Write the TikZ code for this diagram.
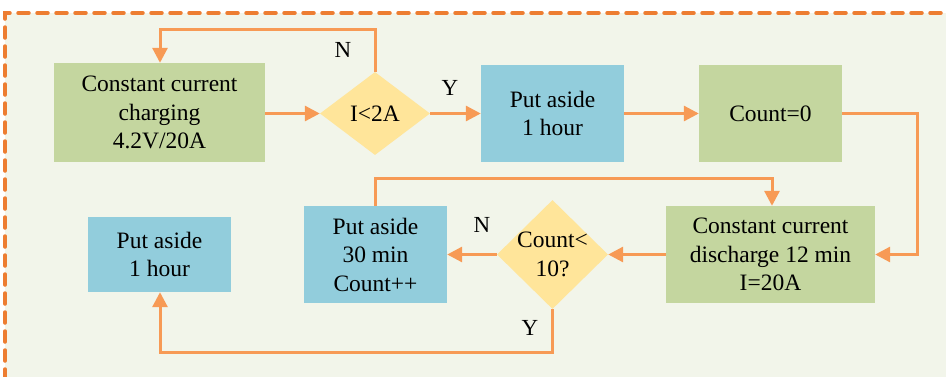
\documentclass[tikz,border=0pt]{standalone}
\usepackage{fontspec}
\setmainfont{Liberation Serif}
\usetikzlibrary{arrows.meta,shapes.geometric}
\definecolor{bgc}{HTML}{F2F5EA}
\definecolor{frame}{HTML}{ED7D31}
\definecolor{arr}{HTML}{F79A55}
\definecolor{gbox}{HTML}{C4D69F}
\definecolor{bbox}{HTML}{92CDDC}
\definecolor{dia}{HTML}{FFE59A}
\tikzset{
  every node/.style={font=\fontsize{23.5}{28.5}\selectfont, align=center, inner sep=0pt},
  greenbox/.style={fill=gbox},
  bluebox/.style={fill=bbox},
  decision/.style={diamond, fill=dia},
  flow/.style={draw=arr, line width=3pt, -{Triangle[length=15pt,width=15pt]}},
  lbl/.style={font=\fontsize{23}{26}\selectfont}
}
\begin{document}
\begin{tikzpicture}[x=1pt,y=-1pt]
\useasboundingbox (0,0) rectangle (946,376);
\fill[bgc] (5,13) rectangle (950,380);
\draw[frame, line width=3.5pt, line cap=round, dash pattern=on 11pt off 8pt] (5,380) -- (5,13) -- (950,13);

% nodes
\node[greenbox, minimum width=211pt, minimum height=99pt] (charge) at (159.5,112.5) {Constant current\\charging\\4.2V/20A};
\node[decision, minimum width=110pt, minimum height=83pt] (d1) at (375,113.5) {};
\node (t1) at (375,113.5) {I<2A};
\node[bluebox, minimum width=143pt, minimum height=97pt] (rest1) at (552.5,113.5) {Put aside\\1 hour};
\node[greenbox, minimum width=143pt, minimum height=97pt] (count0) at (770.5,113.5) {Count=0};
\node[greenbox, minimum width=209pt, minimum height=97pt] (dis) at (770.5,254.5) {Constant current\\discharge 12 min\\I=20A};
\node[decision, minimum width=111pt, minimum height=109pt] (d2) at (552.5,254.5) {};
\node (t2) at (552.5,254.5) {Count<\\10?};
\node[bluebox, minimum width=143pt, minimum height=97pt] (rest30) at (375.5,254.5) {Put aside\\30 min\\Count++};
\node[bluebox, minimum width=143pt, minimum height=75pt] (rest2) at (159.5,254.5) {Put aside\\1 hour};

% corner coordinates
\coordinate (c1) at (375,29);
\coordinate (c2) at (160,29);
\coordinate (c3) at (917,113.5);
\coordinate (c4) at (917,254.5);
\coordinate (c5) at (375.5,178);
\coordinate (c6) at (772,178);
\coordinate (c7) at (552.5,352);
\coordinate (c8) at (160,352);

% connectors
\draw[flow] (charge.east |- d1) -- (d1.west);
\draw[flow] (d1.north) -- (c1) -- (c2) -- (c2 |- charge.north);
\draw[flow] (d1.east) -- (rest1.west);
\draw[flow] (rest1.east) -- (count0.west);
\draw[flow] (count0.east) -- (c3) -- (c4) -- (dis.east);
\draw[flow] (dis.west) -- (d2.east);
\draw[flow] (d2.west) -- (rest30.east |- d2);
\draw[flow] (rest30.north) -- (c5) -- (c6) -- (c6 |- dis.north);
\draw[flow] (d2.south) -- (c7) -- (c8) -- (c8 |- rest2.south);

% labels
\node[lbl] (n1) at (343,50) {N};
\node[lbl] (y1) at (450,88) {Y};
\node[lbl] (n2) at (482,225) {N};
\node[lbl] (y2) at (530,328) {Y};
\end{tikzpicture}
\end{document}
